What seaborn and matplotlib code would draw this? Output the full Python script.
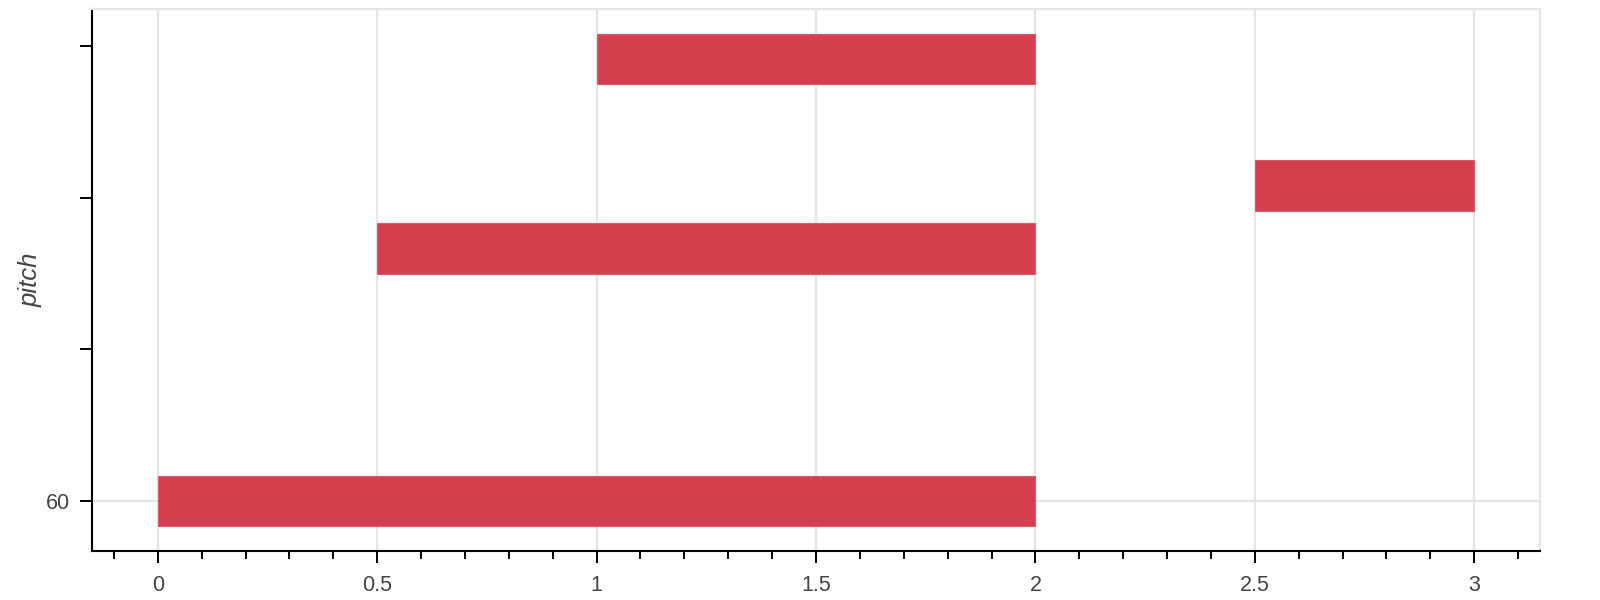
import matplotlib
matplotlib.use("Agg")
import matplotlib.pyplot as plt
from matplotlib.ticker import MultipleLocator, FixedLocator, FixedFormatter
import seaborn as sns
import pandas as pd

# Data: notes of a small piano roll
pitch = [60, 64, 65, 67]
start = [0.0, 0.5, 2.5, 1.0]
end = [2.0, 2.0, 3.0, 2.0]

y_ticks = [60, 62.4, 64.8, 67.2]
y_tick_labels = ["60", "", "", ""]
x_ticks = [0, 0.5, 1, 1.5, 2, 2.5, 3]
x_tick_labels = ["0", "0.5", "1", "1.5", "2", "2.5", "3"]

bar_color = "#d53e4f"
text_color = "#444444"
grid_color = "#e5e5e5"

sns.set_theme(style="white")
plt.rcParams["font.family"] = ["Liberation Sans", "DejaVu Sans"]

df = pd.DataFrame({"pitch": pitch, "start": start, "end": end})
df["duration"] = df["end"] - df["start"]
df = df.sort_values("pitch").reset_index(drop=True)

fig = plt.figure(figsize=(16, 6), dpi=100)
ax = fig.add_axes([0.0575, 0.0817, 0.905, 0.9033])

ax.set_axisbelow(True)
ax.axhline(pitch[0], color=grid_color, lw=1.6, zorder=0)

sns.barplot(data=df, x="duration", y="pitch", orient="h", native_scale=True,
            errorbar=None, color=bar_color, saturation=1, left=df["start"].values,
            edgecolor="#dd5a69", linewidth=0.8, ax=ax, zorder=2)

# ranges (Bokeh-like padding)
x_pad = (max(end) - min(start)) * 0.05
ax.set_xlim(min(start) - x_pad, max(end) + x_pad)
y_lo, y_hi = min(pitch) - 0.4, max(pitch) + 0.4
y_pad = (y_hi - y_lo) * 0.05
ax.set_ylim(y_lo - y_pad, y_hi + y_pad)

ax.xaxis.set_major_locator(FixedLocator(x_ticks))
ax.xaxis.set_major_formatter(FixedFormatter(x_tick_labels))
ax.xaxis.set_minor_locator(MultipleLocator(0.1))
ax.yaxis.set_major_locator(FixedLocator(y_ticks))
ax.yaxis.set_major_formatter(FixedFormatter(y_tick_labels))

ax.grid(False)
ax.xaxis.grid(True, which="major", color=grid_color, lw=1.6, zorder=0)
ax.yaxis.grid(False)

ax.tick_params(axis="both", which="major", direction="out", length=8.5, width=1.4,
               color="black", labelcolor=text_color, labelsize=15.5,
               bottom=True, left=True)
ax.tick_params(axis="x", which="major", pad=9)
ax.tick_params(axis="y", which="major", pad=7)
ax.tick_params(axis="x", which="minor", direction="out", length=5.5, width=1.4,
               color="black", bottom=True)
ax.tick_params(axis="y", which="minor", left=False)

for side in ["left", "bottom"]:
    ax.spines[side].set_color("black")
    ax.spines[side].set_linewidth(1.5)
for side in ["top", "right"]:
    ax.spines[side].set_color(grid_color)
    ax.spines[side].set_linewidth(1.6)

ax.set_xlabel("")
ax.set_ylabel("pitch", fontsize=18.5, style="italic", color=text_color, labelpad=3)

fig.savefig("out.png", dpi=100)
